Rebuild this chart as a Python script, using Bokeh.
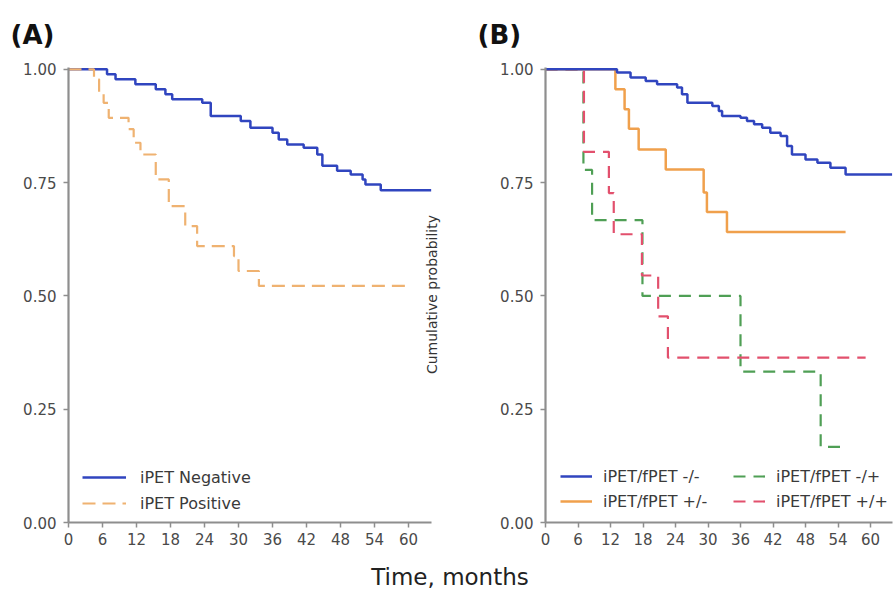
import math
from bokeh.plotting import figure
from bokeh.models import (Range1d, FixedTicker, Div, CustomJSTickFormatter, Legend,
                          LegendItem, Label)
from bokeh.layouts import row, column
from bokeh.embed import file_html
from bokeh.resources import INLINE

# ---------------- data ----------------
# Panel A
a_neg_t = [0, 6.8, 8.3, 11.8, 15.4, 17.1, 18.3, 23.6, 25.1, 30.4, 32.1, 36.0, 37.1, 38.6,
           41.5, 43.9, 44.8, 47.4, 49.8, 51.9, 52.4, 55.1, 64.0]
a_neg_s = [1.00, 0.989, 0.978, 0.967, 0.956, 0.945, 0.934, 0.926, 0.897, 0.886, 0.871, 0.860,
           0.845, 0.834, 0.827, 0.812, 0.787, 0.776, 0.768, 0.757, 0.746, 0.733, 0.733]
a_pos_t = [0, 4.5, 5.4, 6.2, 7.1, 10.6, 11.5, 12.7, 15.4, 17.7, 20.6, 22.7, 29.2, 30.0, 33.6, 60.0]
a_pos_s = [1.00, 0.978, 0.949, 0.926, 0.893, 0.868, 0.838, 0.812, 0.757, 0.698, 0.654, 0.610,
           0.588, 0.555, 0.522, 0.522]

# Panel B
b_nn_t = [0, 13.2, 15.7, 18.5, 20.6, 24.3, 25.2, 26.2, 30.8, 32.0, 32.6, 36.0, 37.2, 38.5,
          40.0, 41.5, 43.4, 44.6, 45.5, 48.0, 50.2, 52.6, 55.4, 64.0]
b_nn_s = [1.00, 0.993, 0.982, 0.974, 0.967, 0.960, 0.945, 0.926, 0.919, 0.908, 0.897, 0.893,
          0.886, 0.879, 0.871, 0.860, 0.853, 0.831, 0.812, 0.801, 0.794, 0.783, 0.768, 0.768]
b_pn_t = [0, 12.9, 14.6, 15.4, 17.2, 22.2, 29.2, 29.8, 33.5, 55.4]
b_pn_s = [1.00, 0.956, 0.912, 0.869, 0.823, 0.779, 0.728, 0.685, 0.641, 0.641]
b_np_t = [0, 7.0, 8.6, 17.9, 36.0, 50.8, 55.4]
b_np_s = [1.00, 0.778, 0.667, 0.500, 0.333, 0.167, 0.167]
b_pp_t = [0, 7.1, 11.7, 12.6, 17.8, 20.8, 22.6, 59.1]
b_pp_s = [1.00, 0.818, 0.727, 0.636, 0.545, 0.455, 0.364, 0.364]

x_ticks = [0, 6, 12, 18, 24, 30, 36, 42, 48, 54, 60]
y_ticks = [0.0, 0.25, 0.50, 0.75, 1.00]

labels_a = ["iPET Negative", "iPET Positive"]
labels_b = ["iPET/fPET -/-", "iPET/fPET +/-", "iPET/fPET -/+", "iPET/fPET +/+"]

FONT = "DejaVu Sans"
AXIS_COL = "#8e8e8e"
TXT_COL = "#4a4a4a"


def style(p):
    p.xgrid.visible = False
    p.ygrid.visible = False
    p.outline_line_color = None
    p.xaxis.ticker = FixedTicker(ticks=x_ticks)
    p.yaxis.ticker = FixedTicker(ticks=y_ticks)
    p.yaxis.formatter = CustomJSTickFormatter(code="return tick.toFixed(2);")
    for ax in (p.xaxis[0], p.yaxis[0]):
        ax.axis_line_color = AXIS_COL
        ax.axis_line_width = 2.2
        ax.major_tick_line_color = AXIS_COL
        ax.major_tick_line_width = 1.5
        ax.major_tick_out = 5
        ax.major_tick_in = 0
        ax.minor_tick_line_color = None
        ax.major_label_text_font = FONT
        ax.major_label_text_font_size = "15px"
        ax.major_label_text_color = TXT_COL
    p.xaxis.major_label_standoff = 5
    p.yaxis.major_label_standoff = 7


def title_style(p, offset):
    p.title.text_font = FONT
    p.title.text_font_style = "bold"
    p.title.text_font_size = "26px"
    p.title.text_color = "#111111"
    p.title.align = "left"
    p.title.vertical_align = "top"
    p.title.offset = offset
    p.title.standoff = 31


def legend_style(lg):
    lg.background_fill_alpha = 0
    lg.border_line_alpha = 0
    lg.padding = 0
    lg.margin = 0
    lg.label_text_font = FONT
    lg.label_text_font_size = "16px"
    lg.label_text_color = "#3a3a3a"
    lg.glyph_height = 20
    lg.label_height = 20


# ---------------- panel A ----------------
# frame runs to 66 months so the shared y-axis title fits inside it; axis line stops at 64
pA = figure(width=470, height=553, output_backend="svg", toolbar_location=None,
            title="(A)",
            x_range=Range1d(0, 66), y_range=Range1d(0, 1.004),
            min_border_left=68, min_border_right=28, min_border_top=67, min_border_bottom=31)
style(pA)
pA.xaxis.bounds = (0, 64)
title_style(pA, -58)
rA1 = pA.step(a_neg_t, a_neg_s, mode="after", line_color="#3045bf", line_width=2.5)
rA2 = pA.step(a_pos_t, a_pos_s, mode="after", line_color="#efb271", line_width=2.2,
              line_dash="13 7")
legA = Legend(items=[LegendItem(label=labels_a[0], renderers=[rA1]),
                     LegendItem(label=labels_a[1], renderers=[rA2])],
              location=(14, 9), glyph_width=44, label_standoff=14, spacing=6)
legend_style(legA)
pA.add_layout(legA)

# y-axis title of panel B, placed (as in the original) at the right edge of panel A
pA.add_layout(Label(x=64.06, y=0.503, text="Cumulative probability", angle=math.pi / 2,
                    text_font=FONT, text_font_size="14px", text_align="center",
                    text_baseline="middle", text_color="#333333"))

# ---------------- panel B ----------------
pB = figure(width=424, height=553, output_backend="svg", toolbar_location=None,
            title="(B)",
            x_range=Range1d(0, 347 / (325 / 60)), y_range=Range1d(0, 1.004),
            min_border_left=75, min_border_right=2, min_border_top=67, min_border_bottom=31)
style(pB)
title_style(pB, -68)
rB3 = pB.step(b_np_t, b_np_s, mode="after", line_color="#4f9f55", line_width=2.2,
              line_dash="12 8")
rB4 = pB.step(b_pp_t, b_pp_s, mode="after", line_color="#e2506d", line_width=2.2,
              line_dash="12 8")
rB2 = pB.step(b_pn_t, b_pn_s, mode="after", line_color="#f0a04c", line_width=2.5)
rB1 = pB.step(b_nn_t, b_nn_s, mode="after", line_color="#3045bf", line_width=2.5)
legB = Legend(items=[LegendItem(label=labels_b[0], renderers=[rB1]),
                     LegendItem(label=labels_b[1], renderers=[rB2]),
                     LegendItem(label=labels_b[2], renderers=[rB3]),
                     LegendItem(label=labels_b[3], renderers=[rB4])],
              location=(15, 11), glyph_width=32, label_standoff=11, spacing=5,
              nrows=2, label_width=125)
legend_style(legB)
pB.add_layout(legB)

xlabel = Div(text='<div style="box-sizing:border-box;width:894px;text-align:center;'
                  'font-family:\'DejaVu Sans\';font-size:23px;color:#222;'
                  'padding-top:8px;padding-left:6px;">Time, months</div>',
             width=894, height=35, margin=0)

layout = column(row(pA, pB), xlabel)

open("out.html", "w").write(file_html(layout, INLINE))
